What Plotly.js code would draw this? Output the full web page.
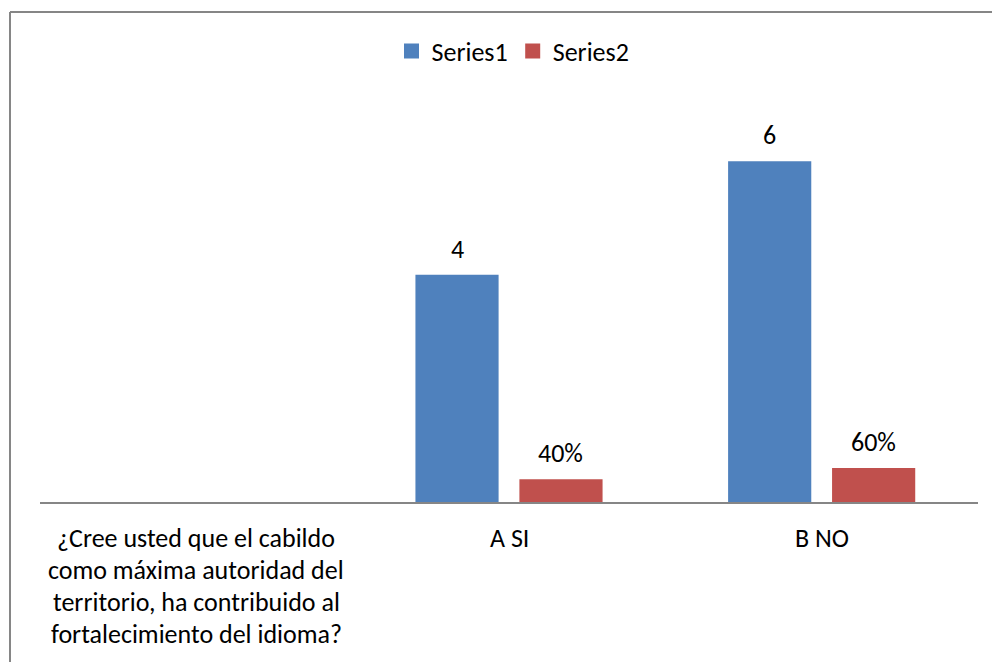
<!DOCTYPE html>
<html>
<head>
<meta charset="utf-8">
<script src="https://cdn.plot.ly/plotly-3.0.1.min.js"></script>
<style>
  html, body { margin: 0; padding: 0; background: #ffffff; }
  #chart { width: 992px; height: 662px; }
</style>
</head>
<body>
<div id="chart"></div>
<script>
// Survey answers: counts (Series1) and shares (Series2)
const categories = [
  "¿Cree usted que el cabildo<br>como máxima autoridad del<br>territorio, ha contribuido al<br>fortalecimiento del idioma?",
  "A SI",
  "B NO"
];
const seriesNames = ["Series1", "Series2"];
const series1 = [null, 4, 6];
const series2 = [null, 0.4, 0.6];
const seriesColors = ["#4F81BD", "#C0504D"];

const FONT = "Carlito, Lato, sans-serif";
const FONT_SIZE = 26;
const GRID = "#868686";
const margin = { l: 40, r: 14, t: 80, b: 160 };
const W = 992, H = 662;
const plotW = W - margin.l - margin.r;
const plotH = H - margin.t - margin.b;
const yMax = 7.43;
const bargap = 0.335;
const bargroupgap = 0.2;
const slotOffset = (1 - bargap) / 4;   // centre of each bar inside its group

const fmtCount = v => String(v);
const fmtPct = v => Math.round(v * 100) + "%";
const xIdx = categories.map((_, i) => i);

const traces = [
  { type: "bar", name: seriesNames[0], x: xIdx, y: series1, showlegend: false,
    marker: { color: seriesColors[0] }, hoverinfo: "skip" },
  { type: "bar", name: seriesNames[1], x: xIdx, y: series2, showlegend: false,
    marker: { color: seriesColors[1] }, hoverinfo: "skip" },
  // legend keys: square swatches for both series
  ...seriesNames.map((n, k) => ({
    type: "scatter", mode: "markers", name: n, x: [null], y: [null],
    marker: { symbol: "square", size: 15, color: seriesColors[k] },
    hoverinfo: "skip"
  }))
];

const annotations = [];
// value labels above the bars
[[series1, fmtCount, -slotOffset], [series2, fmtPct, slotOffset]].forEach(([vals, fmt, dx]) => {
  vals.forEach((v, i) => {
    if (v === null) return;
    annotations.push({
      x: i + dx, y: v, xref: "x", yref: "y",
      text: fmt(v), showarrow: false,
      xanchor: "center", yanchor: "middle", yshift: 26,
      font: { family: FONT, size: FONT_SIZE, color: "#000000" }
    });
  });
});
// category labels, one annotation per line
const LINE_STEP = 32;
categories.forEach((c, i) => {
  c.split("<br>").forEach((line, k) => {
    annotations.push({
      x: i, y: 0, xref: "x", yref: "paper",
      text: line, showarrow: false,
      xanchor: "center", yanchor: "middle", yshift: -36 - k * LINE_STEP,
      font: { family: FONT, size: FONT_SIZE, color: "#000000" }
    });
  });
});

// chart frame (left and top edges)
const px2x = px => (px - margin.l) / plotW;
const px2y = py => (H - margin.b - py) / plotH;
const shapes = [
  { type: "line", xref: "paper", yref: "paper",
    x0: px2x(10), x1: px2x(10), y0: px2y(12), y1: px2y(H + 5),
    line: { color: GRID, width: 2 } },
  { type: "line", xref: "paper", yref: "paper",
    x0: px2x(10), x1: px2x(W + 5), y0: px2y(12), y1: px2y(12),
    line: { color: GRID, width: 2 } }
];

const layout = {
  width: W, height: H,
  margin: margin,
  paper_bgcolor: "#ffffff", plot_bgcolor: "#ffffff",
  font: { family: FONT, size: FONT_SIZE, color: "#000000" },
  barmode: "group", bargap: bargap, bargroupgap: bargroupgap,
  showlegend: true,
  legend: {
    orientation: "h", x: px2x(513), xanchor: "center",
    y: px2y(51), yanchor: "middle",
    font: { family: FONT, size: FONT_SIZE, color: "#000000" },
    bgcolor: "rgba(0,0,0,0)"
  },
  xaxis: {
    type: "linear", range: [-0.5, 2.5],
    showticklabels: false, ticks: "", showgrid: false, zeroline: false,
    showline: true, linecolor: GRID, linewidth: 2, fixedrange: true
  },
  yaxis: {
    range: [0, yMax], visible: false, showgrid: false, zeroline: false, fixedrange: true
  },
  annotations: annotations,
  shapes: shapes
};

Plotly.newPlot("chart", traces, layout, { displayModeBar: false, staticPlot: true });
</script>
</body>
</html>
